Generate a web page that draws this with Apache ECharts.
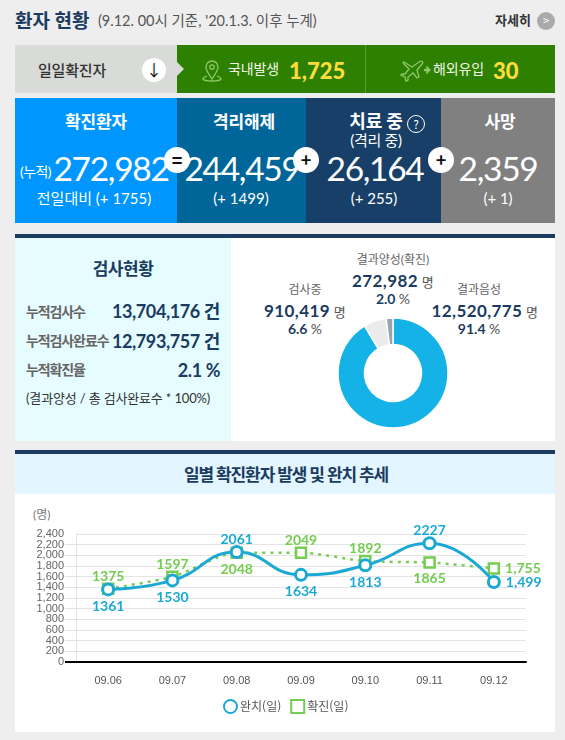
<!DOCTYPE html>
<html lang="ko"><head><meta charset="utf-8">
<script src="https://cdn.jsdelivr.net/npm/echarts@6/dist/echarts.min.js"></script>
<style>
html,body{margin:0;padding:0;background:#eee;width:565px;height:740px;overflow:hidden;font-family:"Noto Sans CJK KR","Noto Sans",sans-serif}
.b{position:absolute}
.t{position:absolute;white-space:nowrap;line-height:1;font-family:Lato,"Noto Sans CJK KR",sans-serif}
.circ{position:absolute;border-radius:50%;background:#fff;text-align:center;color:#111;font-weight:700;transform:translate(-50%,-50%)}
#pie{position:absolute;left:231px;top:238px;width:324px;height:203px}
#trend{position:absolute;left:0;top:450px;width:565px;height:290px}
</style></head><body>
<div id="page"></div>
<div id="pie"></div>
<div id="trend"></div>
<script>
const days = ['09.06','09.07','09.08','09.09','09.10','09.11','09.12'];
const recovered = [1361,1530,2061,1634,1813,2227,1499];
const confirmed = [1375,1597,2048,2049,1892,1865,1755];
const testNames = ['결과음성','검사중','결과양성(확진)'];
const testValues = [12520775,910419,272982];
const testShare = ['91.4','6.6','2.0'];
const statusNames = ['확진환자','격리해제','사망'];
const statusValues = ['272,982','244,459','26,164','2,359'];
const statusDelta = ['전일대비 (+ 1755)','(+ 1499)','(+ 255)','(+ 1)'];
const recoveredSides = ['bottom','bottom','top','bottom','bottom','top','right'];
const confirmedSides = ['top','top','bottom','top','top','bottom','right'];

const NAVY='#1b3c60', page=document.getElementById('page');
function box(x,y,w,h,c){const d=document.createElement('div');d.className='b';d.style.cssText=`left:${x}px;top:${y}px;width:${w}px;height:${h}px;background:${c}`;page.appendChild(d);return d;}
// anchor: 'l' left edge at x, 'c' centred on x, 'r' right edge at x; y is vertical centre
function txt(s,x,y,size,color,anchor,extra){const d=document.createElement('div');d.className='t';
  const tx=anchor==='c'?'-50%':anchor==='r'?'-100%':'0';
  d.style.cssText=`left:${x}px;top:${y}px;font-size:${size}px;color:${color};transform:translate(${tx},-50%);${extra||''}`;
  d.innerHTML=s;page.appendChild(d);return d;}
function circ(x,y,r,s,fs,extra){const d=document.createElement('div');d.className='circ';
  d.style.cssText=`left:${x}px;top:${y}px;width:${2*r}px;height:${2*r}px;line-height:${2*r-2}px;font-size:${fs}px;${extra||''}`;d.textContent=s;page.appendChild(d);}

// header
txt('환자 현황',15,20,19,NAVY,'l','font-weight:700');
txt("(9.12. 00시 기준, '20.1.3. 이후 누계)",98,21,14.5,'#555','l');
txt('자세히',495,20,13,'#333','l','font-weight:700');
circ(546,21,9,'>',11,'background:#aaa;color:#fff;font-weight:400');

// daily band
box(15,45,162,48,'#d8dbd7');box(177,45,378,48,'#2d8000');box(365,45,1,48,'#5a9c35');
const notch=box(177,62,0,0,'transparent');notch.style.cssText+='border-left:7px solid #d8dbd7;border-top:7px solid transparent;border-bottom:7px solid transparent;';
txt('일일확진자',38,70,15,'#333','l','font-weight:500;letter-spacing:-.2px');
circ(154,70,12,'↓',16,'font-weight:400');
txt('국내발생',228,69,14,'#f2f7ea','l','letter-spacing:-.1px');
txt('1,725',289,71,22,'#ffdc3c','l','font-weight:900');
txt('해외유입',433,69,14,'#f2f7ea','l','letter-spacing:-.1px');
txt('30',493,71,22,'#ffdc3c','l','font-weight:900');
const ic=document.createElement('div');ic.innerHTML=`<svg width="565" height="100" style="position:absolute;left:0;top:0" fill="none" stroke="#8fc76b" stroke-width="1.3">
<path d="M212 79c-3-5-6-8-6-12a6 6 0 0 1 12 0c0 4-3 7-6 12z"/><circle cx="212" cy="67" r="2.2"/><path d="M207 76c-3 1-4 2-4 3 0 1 4 2 9 2s9-1 9-2c0-1-1-2-4-3"/>
<path d="M404 62l8 5 7-5c3-2 5 0 3 2l-5 6 2 7-2 1-4-5-5 4v3l-2 1-1-4-4-2 1-1 3 0 4-5-6-6z"/><path d="M424 70h4" stroke-width="2.4"/><path d="M427 67l3 3-3 3z" fill="#8fc76b"/></svg>`;
page.appendChild(ic);

// status band
box(15,98,162,125,'#0096ff');box(177,98,129,125,'#00669a');box(306,98,135,125,'#173f68');box(441,98,114,125,'#808080');
const W='#fff',HB='font-weight:700;letter-spacing:-.2px';
txt(statusNames[0],96,121,17,W,'c',HB);txt(statusNames[1],244,121,17,W,'c',HB);
txt('치료 중',376,121,18,W,'c',HB);txt('(격리 중)',376,140,15,W,'c','letter-spacing:-.3px');
txt(statusNames[2],500,121,17,W,'c',HB);
circ(416,124,8,'?',12,'background:transparent;border:1px solid #fff;color:#fff;font-weight:400;line-height:15px');
txt('(누적)',20,172,14,W,'l','letter-spacing:-.6px');
const BIG='font-weight:400;letter-spacing:-1.3px';
txt(statusValues[0],111,169,33.5,W,'c',BIG);txt(statusValues[1],242,169,33.5,W,'c',BIG);
txt(statusValues[2],375,169,33.5,W,'c',BIG);txt(statusValues[3],498,169,33.5,W,'c',BIG);
txt(statusDelta[0],94,198,15,W,'c');txt(statusDelta[1],241,198,15,W,'c');
txt(statusDelta[2],374,198,15,W,'c');txt(statusDelta[3],498,198,15,W,'c');
circ(177,160,13,'=',18);circ(306,160,13,'+',18);circ(441,160,13,'+',18);

// test panel
box(15,234,540,4,NAVY);box(15,238,216,203,'#e6fdff');box(231,238,324,203,'#fff');
txt('검사현황',123,268,17,NAVY,'c','font-weight:700;letter-spacing:-.5px');
const RL='font-weight:700;letter-spacing:-1.1px',RV='font-weight:700;letter-spacing:-.4px';
txt('누적검사수',26,312,14,'#666','l',RL);txt('13,704,176 건',220,311,18,NAVY,'r',RV);
txt('누적검사완료수',26,341,14,'#666','l',RL);txt('12,793,757 건',220,341,18,NAVY,'r',RV);
txt('누적확진율',26,370,14,'#666','l',RL);txt('2.1 %',220,370,18,NAVY,'r',RV);
txt('(결과양성 / 총 검사완료수 * 100%)',26,398,13,'#333','l','letter-spacing:-.15px');
const fmt=n=>n.toLocaleString('en-US');
const unit='<span style="font-weight:400;font-size:13px;color:#555"> 명</span>';
const NUM='font-weight:700;letter-spacing:.4px', SH='font-weight:700;color:'+NAVY;
function testLabel(i,cx,cxv,y1){
  txt(testNames[i],cx,y1,12,'#666','c');
  txt(fmt(testValues[i])+unit,cxv,y1+20,17,NAVY,'c',NUM);
  txt(testShare[i]+' <span style="font-weight:400;color:#555">%</span>',cx,y1+39,14,NAVY,'c',SH);
}
testLabel(2,393,393,260);testLabel(1,305,305,290);testLabel(0,479,485,290);

// trend panel
box(15,450,540,4,NAVY);box(15,454,540,40,'#e3f5ff');box(15,494,540,238,'#fff');
txt('일별 확진환자 발생 및 완치 추세',286,474,17,NAVY,'c','font-weight:700;letter-spacing:-1.1px');
txt('(명)',33,515,12,'#777','l');

// donut
echarts.init(document.getElementById('pie')).setOption({animation:false,series:[{
  type:'pie',center:[162,135],radius:[28.5,55],startAngle:90,clockwise:true,silent:true,
  label:{show:false},labelLine:{show:false},
  itemStyle:{borderColor:'#fff',borderWidth:1.5},
  data:testValues.map((v,i)=>({name:testNames[i],value:v,itemStyle:{color:['#14b2e6','#ebebeb','#95a5ae'][i]}}))
}]});

// trend
const BLUE='#1ba9d4',GREEN='#74cc50',LF='Lato,"Noto Sans",sans-serif';
const fmtLast=p=>p.dataIndex===days.length-1?fmt(p.value):String(p.value);
const labelGap={top:-1,bottom:3,right:5};
const points=(vals,sides)=>vals.map((v,i)=>({value:v,label:{position:sides[i],distance:labelGap[sides[i]]}}));
const yLabel={fontSize:11,lineHeight:9,color:'#666',margin:12,fontFamily:'"Liberation Sans",sans-serif',formatter:v=>v?fmt(v):'0'};
echarts.init(document.getElementById('trend')).setOption({
  animation:false,
  grid:{left:76,right:39,top:84,bottom:78},
  legend:{top:244,left:218,itemGap:9,itemWidth:13,itemHeight:13,
    textStyle:{fontSize:12,color:'#555',padding:[0,0,0,-2],fontFamily:'"Noto Sans CJK KR",sans-serif'},
    data:[{name:'완치(일)',icon:'circle'},{name:'확진(일)',icon:'rect'}]},
  xAxis:{type:'category',data:days,
    axisLine:{lineStyle:{color:'#000',width:2}},axisTick:{show:false},
    axisLabel:{fontSize:11,color:'#555',margin:13,fontFamily:'"Liberation Sans",sans-serif'}},
  yAxis:[{type:'value',min:0,max:2400,interval:200,
    axisLine:{show:true,lineStyle:{color:'#e4e4e4'}},
    axisTick:{show:true,length:11,lineStyle:{color:'#e4e4e4'}},
    axisLabel:{...yLabel,showMinLabel:false,showMaxLabel:false},
    splitLine:{lineStyle:{color:'#e4e4e4'}}},
   {type:'value',min:0,max:2400,interval:200,position:'left',
    axisLine:{show:false},splitLine:{show:false},
    axisLabel:{...yLabel,customValues:[0,2400]},
    axisTick:{show:true,customValues:[0],length:11,lineStyle:{color:'#000',width:2}}}],
  series:[
   {name:'확진(일)',type:'line',smooth:.25,z:2,symbol:'rect',symbolSize:10,showAllSymbol:true,
    lineStyle:{color:GREEN,width:2.5,type:[3,5]},
    itemStyle:{color:'#fff',borderColor:GREEN,borderWidth:2.5},
    label:{show:true,color:GREEN,fontSize:14,fontWeight:700,fontFamily:LF,formatter:fmtLast},
    data:points(confirmed,confirmedSides)},
   {name:'완치(일)',type:'line',smooth:.5,z:3,symbol:'circle',symbolSize:11,showAllSymbol:true,
    lineStyle:{color:BLUE,width:3},
    itemStyle:{color:'#fff',borderColor:BLUE,borderWidth:3},
    label:{show:true,color:BLUE,fontSize:14,fontWeight:700,fontFamily:LF,formatter:fmtLast},
    data:points(recovered,recoveredSides)}
  ]
});
</script></body></html>
